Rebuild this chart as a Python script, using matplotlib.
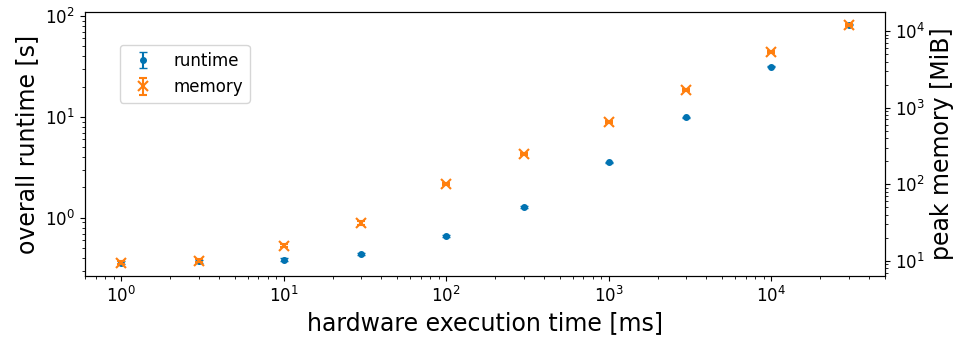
import numpy as np
import matplotlib.pyplot as plt

hw_time = [1, 3, 10, 30, 100, 300, 1000, 3000, 10000, 30000]
runtime = [0.36, 0.37, 0.385, 0.44, 0.665, 1.28, 3.56, 9.9, 31.5, 82.0]
runtime_err = [0.012, 0.01, 0.015, 0.01, 0.012, 0.02, 0.05, 0.15, 0.5, 1.0]
memory = [9.4, 10.0, 15.7, 31.0, 100.0, 247.0, 646.0, 1700.0, 5300.0, 12000.0]
memory_err = [0.4, 0.4, 0.8, 1.5, 4.0, 8.0, 15.0, 40.0, 150.0, 300.0]

fig, ax = plt.subplots(figsize=(9.63, 3.38), dpi=100)
ax2 = ax.twinx()

h1 = ax.errorbar(hw_time, runtime, yerr=runtime_err, fmt='o', ms=4,
                 color='#0173b2', capsize=3, label='runtime')
h2 = ax2.errorbar(hw_time, memory, yerr=memory_err, fmt='x', ms=7.5, mew=1.5,
                  color='#ff7f0e', capsize=3, label='memory')

ax.set_xscale('log')
ax.set_yscale('log')
ax2.set_yscale('log')

ax.set_xlabel('hardware execution time [ms]', fontsize=17)
ax.set_ylabel('overall runtime [s]', fontsize=17)
ax2.set_ylabel('peak memory [MiB]', fontsize=17)
ax.tick_params(labelsize=12)
ax2.tick_params(labelsize=12)

ax.legend([h1, h2], ['runtime', 'memory'], loc='upper left',
          bbox_to_anchor=(0.044, 0.875), borderaxespad=0, fontsize=12)

plt.subplots_adjust(left=0.088, right=0.919, top=0.964, bottom=0.183)
plt.savefig('out.png')
